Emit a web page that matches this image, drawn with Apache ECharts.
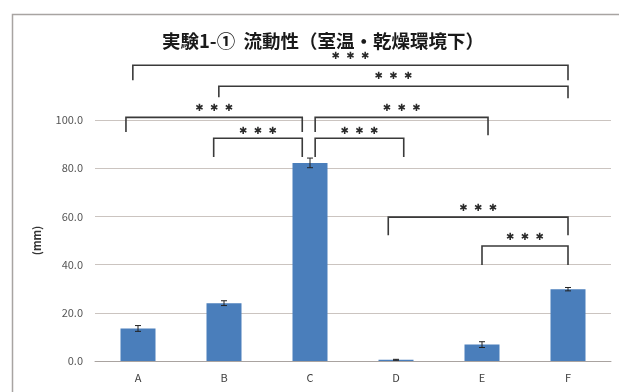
<!DOCTYPE html>
<html>
<head>
<meta charset="utf-8">
<script src="https://cdn.jsdelivr.net/npm/echarts@6/dist/echarts.min.js"></script>
<style>
    html, body { margin: 0; padding: 0; background: #fff; }
    #chart { width: 619px; height: 392px; }
</style>
</head>
<body>
<div id="chart"></div>
<script>
    // 値
    var categories = ['A', 'B', 'C', 'D', 'E', 'F'];
    var means = [13.5, 24.0, 82.2, 0.5, 6.8, 29.8];
    var errors = [1.2, 1.0, 2.0, 0.2, 1.2, 0.7];
    var yMin = 0, yMax = 100, yStep = 20;

    // 有意差の括弧: [左カテゴリ, 左ずれ, 右カテゴリ, 右ずれ, 横線の高さ, 左端, 右端, ***の高さ]
    var brackets = [
        [0, -0.06, 5, 0.00, 122.7, 116.5, 116.5, 126.2],
        [1, -0.06, 5, 0.00, 114.0, 109.4, 109.0, 117.9],
        [0, -0.14, 2, -0.09, 101.1, 95.0, 95.0, 105.0],
        [1, -0.12, 2, -0.09, 92.4, 84.6, 84.6, 95.4],
        [2, 0.06, 4, 0.07, 101.1, 95.0, 93.7, 105.0],
        [2, 0.06, 3, 0.09, 92.4, 84.6, 84.6, 95.4],
        [3, -0.09, 5, 0.00, 59.7, 52.2, 52.2, 63.2],
        [4, 0.00, 5, 0.00, 47.7, 39.8, 39.8, 51.2]
    ];

    var errData = [];
    for (var i = 0; i < categories.length; i++) {
        errData.push([i, means[i] - errors[i], means[i] + errors[i]]);
    }

    var myChart = echarts.init(document.getElementById('chart'));
    myChart.setOption({
        animation: false,
        textStyle: { fontFamily: '"Noto Sans CJK JP", "Noto Sans", sans-serif' },
        graphic: [{
            type: 'rect',
            shape: { x: 12.5, y: 14.5, width: 640, height: 420 },
            style: { fill: 'none', stroke: '#a8a4a2', lineWidth: 1.5 },
            silent: true
        }],
        title: {
            text: '実験1-①  流動性（室温・乾燥環境下）',
            left: 318,
            textAlign: 'center',
            top: 27,
            textStyle: { fontSize: 18.5, fontWeight: 'bold', color: '#1a1a1a' }
        },
        grid: { left: 95, right: 8, top: 120, bottom: 31 },
        xAxis: {
            type: 'category',
            data: categories,
            axisLine: { lineStyle: { color: '#a9a3a0' } },
            axisTick: { show: false },
            axisLabel: { color: '#404040', fontSize: 11, margin: 11 }
        },
        yAxis: {
            type: 'value',
            min: yMin,
            max: yMax,
            interval: yStep,
            name: '(mm)',
            nameLocation: 'middle',
            nameGap: 53,
            nameRotate: 90,
            nameTextStyle: { fontSize: 11, fontWeight: 'bold', color: '#333' },
            axisLine: { show: false },
            axisTick: { show: false },
            axisLabel: {
                color: '#555', fontSize: 11, margin: 12,
                formatter: function (v) { return v.toFixed(1); }
            },
            splitLine: { lineStyle: { color: '#cbc4c0' } }
        },
        series: [
            {
                type: 'bar',
                data: means,
                barWidth: 35,
                itemStyle: { color: '#4a7ebb' },
                z: 2
            },
            {
                type: 'custom',
                data: errData,
                z: 3,
                renderItem: function (params, api) {
                    var lo = api.coord([api.value(0), api.value(1)]);
                    var hi = api.coord([api.value(0), api.value(2)]);
                    var w = 3;
                    var s = { stroke: '#222', lineWidth: 1 };
                    return {
                        type: 'group',
                        children: [
                            { type: 'line', shape: { x1: hi[0], y1: hi[1], x2: lo[0], y2: lo[1] }, style: s },
                            { type: 'line', shape: { x1: hi[0] - w, y1: hi[1], x2: hi[0] + w, y2: hi[1] }, style: s },
                            { type: 'line', shape: { x1: lo[0] - w, y1: lo[1], x2: lo[0] + w, y2: lo[1] }, style: s }
                        ]
                    };
                }
            },
            {
                type: 'custom',
                data: brackets,
                clip: false,
                z: 4,
                renderItem: function (params, api) {
                    var b = brackets[params.dataIndex];
                    var band = api.size([1, 0])[0];
                    var x1 = api.coord([b[0], 0])[0] + b[1] * band;
                    var x2 = api.coord([b[2], 0])[0] + b[3] * band;
                    var yTop = api.coord([0, b[4]])[1];
                    var yL = api.coord([0, b[5]])[1];
                    var yR = api.coord([0, b[6]])[1];
                    var yS = api.coord([0, b[7]])[1];
                    return {
                        type: 'group',
                        children: [
                            {
                                type: 'polyline',
                                shape: { points: [[x1, yL], [x1, yTop], [x2, yTop], [x2, yR]] },
                                style: { fill: 'none', stroke: '#3a3a3a', lineWidth: 1.6 }
                            },
                            {
                                type: 'text',
                                x: (x1 + x2) / 2,
                                y: yS,
                                style: {
                                    text: '✱  ✱  ✱',
                                    fill: '#2a2a2a',
                                    fontSize: 10,
                                    fontFamily: 'DejaVu Sans',
                                    align: 'center',
                                    verticalAlign: 'middle'
                                }
                            }
                        ]
                    };
                }
            }
        ]
    });
</script>
</body>
</html>
